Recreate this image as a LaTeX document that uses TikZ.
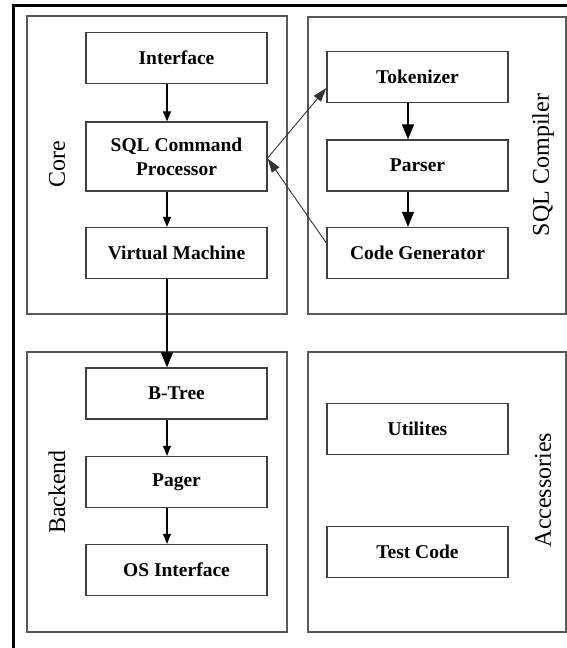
\documentclass[tikz,border=0pt]{standalone}
\usepackage{fontspec}
\setmainfont{Liberation Serif}
\usepackage{tikz}
\usetikzlibrary{arrows.meta}
\tikzset{module/.style={draw=black!75, line width=1.3pt, minimum width=181pt, minimum height=51pt, inner sep=0pt, align=center, font=\fontsize{19.5}{24}\selectfont\bfseries}}
\tikzset{layer/.style={draw=black!65, line width=1.3pt}}
\tikzset{layername/.style={rotate=90, inner sep=0pt, font=\fontsize{24}{29}\selectfont}}
\tikzset{smallhead/.style={-{Triangle[length=10pt,width=8pt]}, line width=1.1pt}}
\tikzset{bighead/.style={-{Triangle[length=15pt,width=12pt]}, line width=1.1pt}}
\tikzset{slanthead/.style={-{Triangle[length=14pt,width=9pt]}, line width=0.9pt, black!80}}

\begin{document}
\begin{tikzpicture}[x=1pt,y=-1pt]
\useasboundingbox (0,0) rectangle (567,648);
\draw [line width=3pt] (13,648) -- (13,5) -- (567,5);
% layers
\draw [layer] (27,16) rectangle (287,314);
\draw [layer] (308,17) rectangle (566,314);
\draw [layer] (27,352) rectangle (287,632);
\draw [layer] (308,352) rectangle (566,632);
\node[layername] (core) at (57,164) {Core};
\node[layername] (compiler) at (543,165) {SQL Compiler};
\node[layername] (backend) at (57,492) {Backend};
\node[layername] (accessories) at (543,490) {Accessories};
% core
\node[module] (iface) at (176.5,58) {Interface};
\node[module, minimum height=69pt] (sqlcp) at (176.5,156.5) {SQL Command\\Processor};
\node[module] (vm) at (176.5,253) {Virtual Machine};
% compiler
\node[module] (tok) at (417.5,77) {Tokenizer};
\node[module] (parser) at (417.5,165.5) {Parser};
\node[module] (codegen) at (417.5,253) {Code Generator};
% backend
\node[module] (btree) at (176.5,393.5) {B-Tree};
\node[module] (pager) at (176.5,482) {Pager};
\node[module] (osif) at (176.5,570) {OS Interface};
% accessories
\node[module] (util) at (417.5,429) {Utilites};
\node[module] (test) at (417.5,552) {Test Code};
% arrows
\draw [smallhead] ([xshift=-9.5pt]iface.south) -- ([xshift=-9.5pt]sqlcp.north);
\draw [smallhead] ([xshift=-9.5pt]sqlcp.south) -- ([xshift=-9.5pt]vm.north);
\draw [bighead] ([xshift=-9.5pt]vm.south) -- ([xshift=-9.5pt]btree.north);
\draw [smallhead] ([xshift=-9.5pt]btree.south) -- ([xshift=-9.5pt]pager.north);
\draw [smallhead] ([xshift=-9.5pt]pager.south) -- ([xshift=-9.5pt]osif.north);
\draw [bighead] ([xshift=-9.5pt]tok.south) -- ([xshift=-9.5pt]parser.north);
\draw [bighead] ([xshift=-9.5pt]parser.south) -- ([xshift=-9.5pt]codegen.north);
\draw [slanthead] ([yshift=-1.5pt]sqlcp.east) -- ([yshift=-11pt]tok.west);
\draw [slanthead] ([yshift=10pt]codegen.west) -- ([yshift=-2pt]sqlcp.east);
\end{tikzpicture}
\end{document}
